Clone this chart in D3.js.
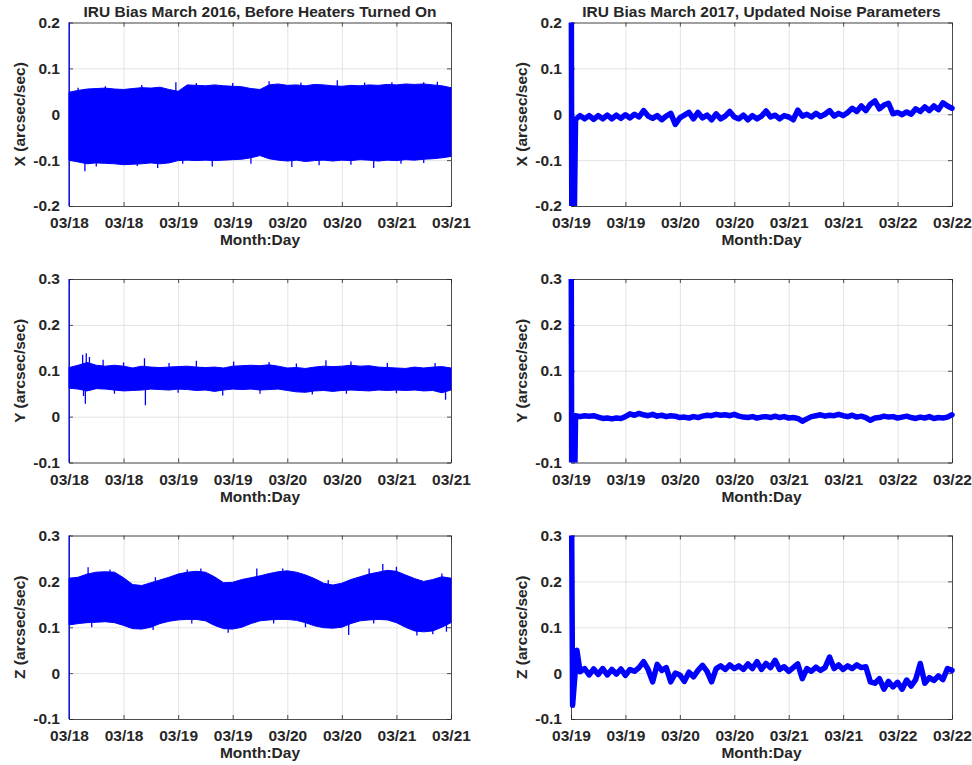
<!DOCTYPE html>
<html>
<head>
<meta charset="utf-8">
<script src="https://cdn.jsdelivr.net/npm/d3@7"></script>
<style>
  body { margin: 0; background: #fff; }
  text { font-family: "Liberation Sans", Arial, sans-serif; font-weight: bold; fill: #262626; }
</style>
</head>
<body>
<svg id="chart" width="972" height="765"></svg>
<script>
// ---- 2016 (left column): envelope of the dense noise band, one value every 2 hours from 03/18 00:00
const bandStep = 2;
const xHi2016 = [0.048, 0.052, 0.055, 0.056, 0.057, 0.055, 0.054, 0.056, 0.058, 0.057, 0.059, 0.054, 0.050,
  0.064, 0.063, 0.062, 0.064, 0.062, 0.061, 0.060, 0.056, 0.054, 0.064, 0.066, 0.063, 0.064, 0.062, 0.065,
  0.064, 0.062, 0.061, 0.063, 0.062, 0.064, 0.063, 0.065, 0.064, 0.066, 0.065, 0.066, 0.064, 0.062, 0.058];
const xLo2016 = [-0.100, -0.104, -0.108, -0.106, -0.107, -0.108, -0.110, -0.109, -0.108, -0.106, -0.108, -0.106,
  -0.101, -0.100, -0.101, -0.100, -0.101, -0.100, -0.099, -0.098, -0.095, -0.090, -0.097, -0.100, -0.102, -0.100,
  -0.103, -0.101, -0.100, -0.102, -0.100, -0.101, -0.099, -0.100, -0.102, -0.100, -0.101, -0.099, -0.100, -0.098,
  -0.097, -0.095, -0.092];
const yHi2016 = [0.107, 0.112, 0.118, 0.112, 0.110, 0.112, 0.110, 0.106, 0.110, 0.108, 0.107, 0.108, 0.109,
  0.110, 0.108, 0.107, 0.108, 0.106, 0.110, 0.111, 0.112, 0.111, 0.113, 0.110, 0.106, 0.107, 0.105, 0.108,
  0.110, 0.109, 0.110, 0.112, 0.110, 0.111, 0.108, 0.107, 0.106, 0.105, 0.108, 0.106, 0.108, 0.109, 0.106];
const yLo2016 = [0.062, 0.060, 0.056, 0.061, 0.060, 0.058, 0.056, 0.057, 0.058, 0.060, 0.059, 0.058, 0.060,
  0.059, 0.057, 0.058, 0.055, 0.058, 0.060, 0.059, 0.060, 0.058, 0.059, 0.060, 0.057, 0.054, 0.053, 0.056,
  0.057, 0.055, 0.057, 0.058, 0.057, 0.056, 0.058, 0.057, 0.058, 0.057, 0.058, 0.056, 0.057, 0.052, 0.058];
const zHi2016 = [0.207, 0.209, 0.216, 0.220, 0.221, 0.220, 0.208, 0.193, 0.191, 0.197, 0.203, 0.209, 0.216,
  0.220, 0.222, 0.220, 0.210, 0.197, 0.198, 0.204, 0.208, 0.212, 0.217, 0.221, 0.223, 0.220, 0.214, 0.206,
  0.196, 0.192, 0.196, 0.204, 0.210, 0.216, 0.220, 0.224, 0.222, 0.214, 0.206, 0.200, 0.204, 0.210, 0.207];
const zLo2016 = [0.105, 0.108, 0.110, 0.111, 0.112, 0.110, 0.104, 0.097, 0.096, 0.100, 0.108, 0.113, 0.116,
  0.117, 0.117, 0.114, 0.104, 0.097, 0.096, 0.100, 0.108, 0.114, 0.116, 0.117, 0.117, 0.115, 0.110, 0.103,
  0.099, 0.098, 0.100, 0.108, 0.114, 0.116, 0.117, 0.116, 0.110, 0.100, 0.092, 0.090, 0.092, 0.100, 0.110];

// spikes sticking out of the band: [hour, value]
const xSpikes2016 = [[3.5, -0.124], [6, -0.114], [15, -0.113], [19.5, -0.117], [25, -0.108], [31.5, -0.114],
  [40, -0.108], [49, -0.115], [55, -0.111], [62, -0.110], [67, -0.117], [73, -0.108], [78, -0.106],
  [2, 0.058], [8, 0.061], [16, 0.064], [23.5, 0.070], [28, 0.068], [36, 0.068], [44, 0.072], [51, 0.069],
  [59, 0.074], [65, 0.069], [71, 0.070], [78, 0.070], [81, 0.071]];
const ySpikes2016 = [[3, 0.135], [3.8, 0.138], [4.5, 0.130], [7.5, 0.124], [12, 0.118], [16.6, 0.127],
  [22, 0.117], [28, 0.122], [36.2, 0.120], [44, 0.119], [50, 0.116], [56.5, 0.123], [62, 0.120], [70, 0.117],
  [80.5, 0.117], [3.6, 0.028], [3.2, 0.045], [10, 0.050], [16.8, 0.025], [24, 0.052], [33.8, 0.046],
  [42, 0.050], [53.5, 0.048], [61, 0.050], [72, 0.051], [82.8, 0.037]];
const zSpikes2016 = [[4.2, 0.231], [9, 0.226], [19, 0.209], [26, 0.226], [29, 0.228], [41.3, 0.228],
  [47, 0.228], [57, 0.203], [66, 0.228], [69, 0.238], [72, 0.232], [82, 0.217],
  [5, 0.100], [18.5, 0.094], [27, 0.108], [35, 0.088], [45, 0.108], [52, 0.100], [61.5, 0.083],
  [67, 0.108], [76.5, 0.082], [80, 0.085], [83, 0.090]];

// start-up transient (far outside the axes, clipped)
const start2016 = [[0, 0.5], [0.02, -0.5]];

// ---- 2017 (right column): hourly values
const xVal2017 = [-0.011, -0.003, -0.010, -0.003, -0.011, -0.003, -0.010, -0.002, -0.010, -0.002, -0.009, -0.001,
  -0.008, 0.000, -0.006, 0.008, -0.004, -0.009, -0.003, -0.012, -0.004, 0.002, -0.022, -0.008,
  -0.002, 0.004, -0.010, 0.004, -0.008, -0.002, -0.012, 0.001, -0.010, -0.004, 0.006, -0.006,
  -0.010, -0.002, -0.012, -0.003, -0.010, -0.004, 0.007, -0.006, -0.002, -0.010, -0.003, -0.006,
  -0.012, 0.009, -0.004, 0.000, -0.006, 0.002, -0.005, 0.000, 0.008, -0.004, 0.002, -0.003,
  0.004, 0.013, 0.006, 0.018, 0.008, 0.022, 0.029, 0.012, 0.020, 0.024, 0.001, 0.004,
  -0.001, 0.005, 0.000, 0.012, 0.006, 0.016, 0.008, 0.018, 0.010, 0.025, 0.018, 0.013];
const yVal2017 = [0.002, 0.000, 0.002, 0.001, 0.002, -0.001, -0.004, -0.003, -0.005, -0.003, -0.004, 0.000,
  0.006, 0.003, 0.007, 0.004, 0.002, 0.005, 0.001, 0.003, 0.000, 0.002, 0.001, -0.002,
  -0.001, -0.003, 0.000, -0.002, 0.001, 0.003, 0.002, 0.005, 0.003, 0.004, 0.002, 0.005,
  0.001, -0.001, -0.002, 0.000, -0.003, -0.001, 0.000, -0.002, 0.001, -0.002, 0.000, -0.003,
  -0.002, -0.004, -0.010, -0.005, 0.000, 0.002, 0.004, 0.001, 0.003, 0.002, 0.005, 0.002,
  0.000, 0.003, -0.001, 0.001, -0.002, -0.008, -0.003, -0.002, 0.001, -0.001, 0.000, -0.003,
  -0.001, 0.001, -0.002, -0.004, -0.001, -0.003, 0.000, -0.004, -0.002, -0.003, -0.001, 0.004];
const zVal2017 = [0.003, 0.010, -0.004, 0.009, -0.003, 0.010, -0.004, 0.008, -0.002, 0.009, -0.005,
  0.008, 0.004, 0.012, 0.025, 0.008, -0.019, 0.019, 0.006, 0.012, -0.019, 0.000, -0.004,
  -0.018, 0.002, -0.008, 0.006, 0.017, 0.004, -0.019, 0.010, 0.016, 0.008, 0.018, 0.010,
  0.016, 0.008, 0.020, 0.010, 0.025, 0.008, 0.021, 0.012, 0.028, 0.008, 0.014, 0.004,
  0.012, 0.020, -0.012, 0.010, 0.004, 0.013, 0.006, 0.012, 0.035, 0.010, 0.018, 0.008,
  0.016, 0.010, 0.018, 0.012, 0.014, -0.019, -0.022, -0.012, -0.035, -0.018, -0.030, -0.020,
  -0.035, -0.015, -0.028, -0.014, 0.021, -0.022, -0.010, -0.016, -0.006, -0.014, 0.010, 0.006];
// first hour of each hourly series, and the start-up transient before it: [hour, value]
const xFirst2017 = 1, yFirst2017 = 1, zFirst2017 = 2;
const xStart2017 = [[0, 0.6], [0.25, -0.6]];
const yStart2017 = [[0, 0.6], [0.25, -0.6]];
const zStart2017 = [[0, 0.6], [0.35, -0.07], [1.3, 0.05]];

const titles = ["IRU Bias March 2016, Before Heaters Turned On", "IRU Bias March 2017, Updated Noise Parameters"];
const yLabels = ["X (arcsec/sec)", "Y (arcsec/sec)", "Z (arcsec/sec)"];
const yTicksTop = [-0.2, -0.1, 0, 0.1, 0.2];
const yTicksLower = [-0.1, 0, 0.1, 0.2, 0.3];
const t2016 = new Date(2016, 2, 18), t2017 = new Date(2017, 2, 19);
const spanHours = 84;

const svg = d3.select("#chart");
const blue = "#0000ff", axisColor = "#262626", gridColor = "#e3e3e3";
const fs = 15.5;
const colX = [69, 571], colW = [382, 381];
const rowY = [22.5, 279, 535.5], rowH = 183.5;
const at = (t0, h) => new Date(t0.getTime() + h * 3600e3);
const fmtY = d => String(Math.round(d * 10) / 10);

function panel(col, row, draw) {
  const w = colW[col], h = rowH;
  const t0 = col === 0 ? t2016 : t2017;
  const g = svg.append("g").attr("transform", `translate(${colX[col]},${rowY[row]})`);
  const x = d3.scaleTime().domain([t0, at(t0, spanHours)]).range([0, w]);
  const yt = row === 0 ? yTicksTop : yTicksLower;
  const y = d3.scaleLinear().domain([yt[0], yt[yt.length - 1]]).range([h, 0]);
  const every12 = d3.timeHour.every(12);

  // grid
  g.append("g").attr("transform", `translate(0,${h})`)
    .call(d3.axisBottom(x).ticks(every12).tickSize(-h).tickFormat(""))
    .call(a => a.select(".domain").remove())
    .selectAll("line").attr("stroke", gridColor);
  g.append("g")
    .call(d3.axisLeft(y).tickValues(yt).tickSize(-w).tickFormat(""))
    .call(a => a.select(".domain").remove())
    .selectAll("line").attr("stroke", gridColor);

  // axes box with inward ticks
  const styleAx = a => {
    a.select(".domain").attr("stroke", axisColor).attr("stroke-width", 0.8);
    a.selectAll(".tick line").attr("stroke", axisColor).attr("stroke-width", 0.8);
    a.selectAll("text").attr("font-size", fs).attr("fill", axisColor)
      .attr("font-family", '"Liberation Sans", Arial, sans-serif').attr("font-weight", "bold");
  };
  g.append("g").attr("transform", `translate(0,${h})`)
    .call(d3.axisBottom(x).ticks(every12).tickFormat(d3.timeFormat("%m/%d"))
      .tickSize(-4).tickSizeOuter(0).tickPadding(11)).call(styleAx);
  g.append("g").call(d3.axisTop(x).ticks(every12).tickFormat("").tickSize(-4).tickSizeOuter(0)).call(styleAx);
  g.append("g").call(d3.axisLeft(y).tickValues(yt).tickFormat(fmtY)
      .tickSize(-4).tickSizeOuter(0).tickPadding(9)).call(styleAx);
  g.append("g").attr("transform", `translate(${w},0)`)
    .call(d3.axisRight(y).tickValues(yt).tickFormat("").tickSize(-4).tickSizeOuter(0)).call(styleAx);

  // data
  const clipId = `clip${col}${row}`;
  g.append("clipPath").attr("id", clipId).append("rect")
    .attr("x", -4).attr("y", 0).attr("width", w + 8).attr("height", h);
  const plot = g.append("g").attr("clip-path", `url(#${clipId})`);
  draw(plot, x, y, t0);

  // labels
  g.append("text").attr("x", w / 2).attr("y", h + 39).attr("text-anchor", "middle")
    .attr("font-size", fs).text("Month:Day");
  g.append("text").attr("transform", `translate(-44,${h / 2}) rotate(-90)`)
    .attr("text-anchor", "middle").attr("font-size", fs).text(yLabels[row]);
  if (row === 0) {
    g.append("text").attr("x", w / 2).attr("y", -5.5).attr("text-anchor", "middle")
      .attr("font-size", fs).text(titles[col]);
  }
}

function band(hi, lo, spikes) {
  return (plot, x, y, t0) => {
    const pts = hi.map((v, i) => ({ t: at(t0, i * bandStep), hi: v, lo: lo[i] }));
    plot.append("path").datum(pts)
      .attr("d", d3.area().x(d => x(d.t)).y0(d => y(d.lo)).y1(d => y(d.hi)))
      .attr("fill", blue).attr("stroke", blue).attr("stroke-width", 1);
    const mid = (hi[0] + lo[0]) / 2;
    plot.selectAll(".spike").data(spikes).join("line")
      .attr("x1", d => x(at(t0, d[0]))).attr("x2", d => x(at(t0, d[0])))
      .attr("y1", d => y(d[1]))
      .attr("y2", d => {
        const i = Math.round(d[0] / bandStep);
        return y(d[1] > mid ? hi[i] - 0.01 : lo[i] + 0.01);
      })
      .attr("stroke", blue).attr("stroke-width", 1.3);
    plot.append("path").datum(start2016)
      .attr("d", d3.line().x(d => x(at(t0, d[0]))).y(d => y(d[1])))
      .attr("fill", "none").attr("stroke", blue).attr("stroke-width", 1.2);
  };
}

function thick(vals, first, start) {
  return (plot, x, y, t0) => {
    const pts = start.concat(vals.map((v, i) => [first + i, v]));
    plot.append("path").datum(pts)
      .attr("d", d3.line().x(d => x(at(t0, d[0]))).y(d => y(d[1])))
      .attr("fill", "none").attr("stroke", blue).attr("stroke-width", 5.5)
      .attr("stroke-linejoin", "round").attr("stroke-linecap", "round");
  };
}

panel(0, 0, band(xHi2016, xLo2016, xSpikes2016));
panel(0, 1, band(yHi2016, yLo2016, ySpikes2016));
panel(0, 2, band(zHi2016, zLo2016, zSpikes2016));
panel(1, 0, thick(xVal2017, xFirst2017, xStart2017));
panel(1, 1, thick(yVal2017, yFirst2017, yStart2017));
panel(1, 2, thick(zVal2017, zFirst2017, zStart2017));
</script>
</body>
</html>
